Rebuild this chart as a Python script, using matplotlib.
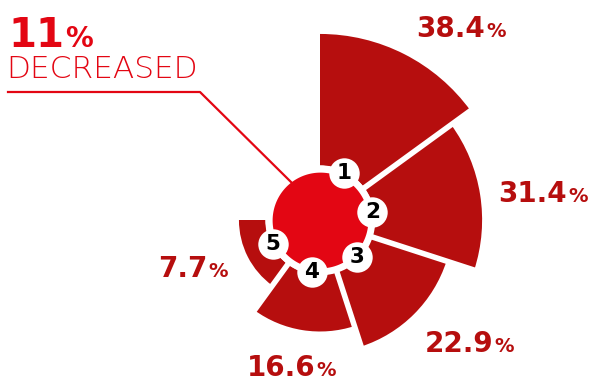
import numpy as np
from matplotlib import pyplot as plt
from matplotlib.lines import Line2D

# shares per group
values = [38.4, 31.4, 22.9, 16.6, 7.7]
numbers = ['1', '2', '3', '4', '5']
labels = ['38.4', '31.4', '22.9', '16.6', '7.7']
headline = '11'
subline = 'DECREASED'

dark_red = '#B60E0E'
bright_red = '#E30613'

W, H = 590, 381
fig = plt.figure(figsize=(W / 100, H / 100), dpi=100)

# polar axes centred on the rose, sized so one unit = k pixels
cx, cy = 320, 220
k = 3.42
rmax = 60
R = rmax * k
ax = fig.add_axes([(cx - R) / W, (H - cy - R) / H, 2 * R / W, 2 * R / H],
                  projection='polar')
ax.set_theta_offset(np.pi / 2)
ax.set_theta_direction(-1)
ax.set_ylim(0, rmax)
ax.set_axis_off()

base = 16
step = np.deg2rad(54)
theta = step * (np.arange(len(values)) + 0.5)
ax.bar(theta, values, width=step, bottom=base, color=dark_red, linewidth=0,
       zorder=1)

# white gaps between the petals
for b in step * np.arange(1, len(values)):
    ax.plot([b, b], [0, rmax], color='white', lw=4, solid_capstyle='butt',
            zorder=2)

# hub: white ring, red disc, numbered badges
ring = np.linspace(0, 2 * np.pi, 361)
ax.fill_between(ring, 0, base, color='white', linewidth=0, zorder=3)
ax.fill_between(ring, 0, 14, color=bright_red, linewidth=0, zorder=4)
ax.scatter(theta, [15.5] * len(theta), s=480, color='white', zorder=5,
           linewidths=0)
for t, n in zip(theta, numbers):
    ax.text(t, 15.5, n, ha='center', va='center', fontsize=15.5,
            fontweight='bold', color='black', zorder=6)

# value labels (right edge of the number, baseline) in pixels
label_pos = [(485, 37), (567, 202), (493, 352), (315, 376), (207, 277)]
for (x, y), s in zip(label_pos, labels):
    fig.text(x / W, 1 - y / H, s, ha='right', va='baseline', fontsize=20,
             fontweight='bold', color=dark_red)
    fig.text(x / W + 0.002, 1 - y / H, '%', ha='left', va='baseline',
             fontsize=14, fontweight='bold', color=dark_red)

# headline and leader line
t11 = fig.text(8 / W, 1 - 47 / H, headline, ha='left', va='baseline',
               fontsize=29, fontweight='bold', color=bright_red)
fig.canvas.draw()
bb = t11.get_window_extent()
fig.text(bb.x1 / W + 0.002, 1 - 47 / H, '%', ha='left', va='baseline',
         fontsize=20, fontweight='bold', color=bright_red)
fig.text(6 / W, 1 - 78 / H, subline, ha='left', va='baseline', fontsize=22.5,
         fontweight='light', color=bright_red)

lx = np.array([8, 200, 292])
ly = np.array([92, 92, 183])
fig.add_artist(Line2D(lx / W, 1 - ly / H, color=bright_red, lw=1.6,
                      transform=fig.transFigure))

fig.savefig('out.png', dpi=100)
